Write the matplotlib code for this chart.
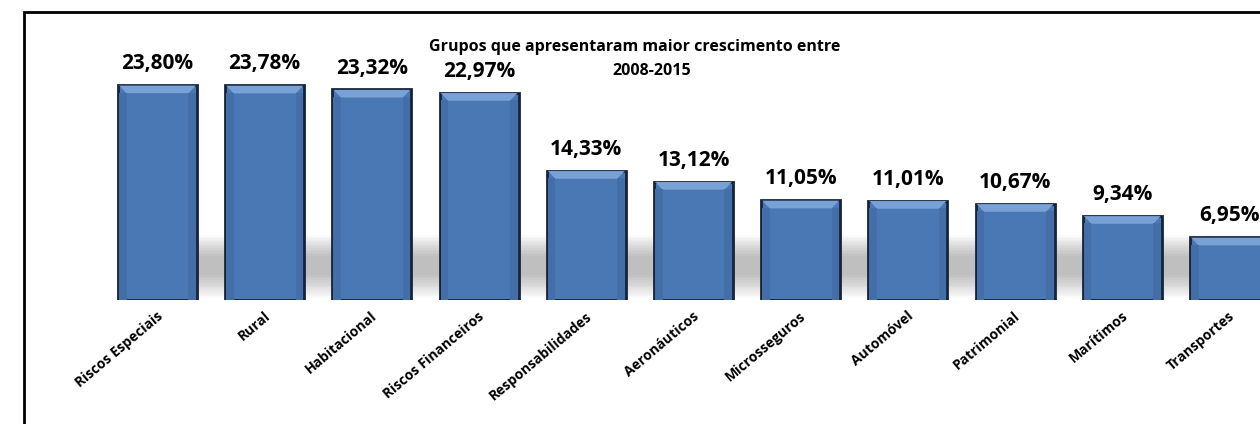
import matplotlib.pyplot as plt
from matplotlib.patches import Rectangle, Polygon
import numpy as np

plt.rcParams['font.family'] = ['Open Sans', 'DejaVu Sans']

grupos = ["Riscos Especiais", "Rural", "Habitacional", "Riscos Financeiros",
          "Responsabilidades", "Aeronáuticos", "Microsseguros", "Automóvel",
          "Patrimonial", "Marítimos", "Transportes"]
crescimento = [23.80, 23.78, 23.32, 22.97, 14.33, 13.12, 11.05, 11.01, 10.67, 9.34, 6.95]
rotulos = ["23,80%", "23,78%", "23,32%", "22,97%", "14,33%", "13,12%",
           "11,05%", "11,01%", "10,67%", "9,34%", "6,95%"]
titulo1 = "Grupos que apresentaram maior crescimento entre"
titulo2 = "2008-2015"

W, H = 1260, 424
fig = plt.figure(figsize=(W / 100, H / 100), dpi=100)

# frame around the chart (right and bottom sides fall outside the picture)
fig.patches.append(Rectangle((23.5 / W, -0.1), 1.2, (H - 11.5) / H + 0.1,
                             transform=fig.transFigure, fill=False,
                             edgecolor='black', linewidth=2, zorder=10))

base_px = 124
px_per_unit = 9.03
step = 107.2
c0 = 157.5
ax = fig.add_axes([0, base_px / H, 1, (H - base_px) / H])
ax.set_xlim(-c0 / step, (W - c0) / step)
ax.set_ylim(0, (H - base_px) / px_per_unit)
ax.axis('off')

x = np.arange(len(grupos))
bw = 0.737

# soft grey shadow behind the bars, falling to the right
for i, v in enumerate(crescimento):
    for k in range(14):
        ax.add_patch(Rectangle((x[i] - bw / 2 + 0.15 + k * 0.01, 0.2 + k * 0.2),
                               bw + 0.3 - k * 0.012, 7.0 - k * 0.38,
                               facecolor='#4a4a4a', edgecolor='none', alpha=0.027, zorder=1))

bars = ax.bar(x, crescimento, width=bw, color='#4a78b4', edgecolor='#16233a',
              linewidth=2, zorder=3)

# bevel: lighter top, slightly darker side strips
for b in bars:
    x0, w, h = b.get_x(), b.get_width(), b.get_height()
    d = 0.08
    dh = 0.9
    ax.add_patch(Polygon([[x0 + 0.01, h - 0.05], [x0 + w - 0.01, h - 0.05],
                          [x0 + w - d, h - dh], [x0 + d, h - dh]],
                         closed=True, facecolor='#78a1d6', edgecolor='none', zorder=4))
    ax.add_patch(Rectangle((x0 + 0.01, 0.05), d - 0.01, h - dh,
                           facecolor='#436ea7', edgecolor='none', zorder=4))
    ax.add_patch(Rectangle((x0 + w - d, 0.05), d - 0.01, h - dh,
                           facecolor='#436ea7', edgecolor='none', zorder=4))

for i, v in enumerate(crescimento):
    ax.text(x[i], v + 1.2, rotulos[i], ha='center', va='bottom',
            fontsize=15, fontweight='bold', color='black', zorder=5, clip_on=False)

for i, g in enumerate(grupos):
    ax.text(x[i] - 0.01, -1.0, g, rotation=40, ha='right', va='top',
            rotation_mode='anchor', fontsize=10, fontweight='bold', clip_on=False)

fig.text(635 / W, 1 - 47 / H, titulo1, ha='center', va='center',
         fontsize=11.5, fontweight='bold')
fig.text(652 / W, 1 - 71 / H, titulo2, ha='center', va='center',
         fontsize=11.5, fontweight='bold')

fig.savefig('out.png', dpi=100, facecolor='white')
